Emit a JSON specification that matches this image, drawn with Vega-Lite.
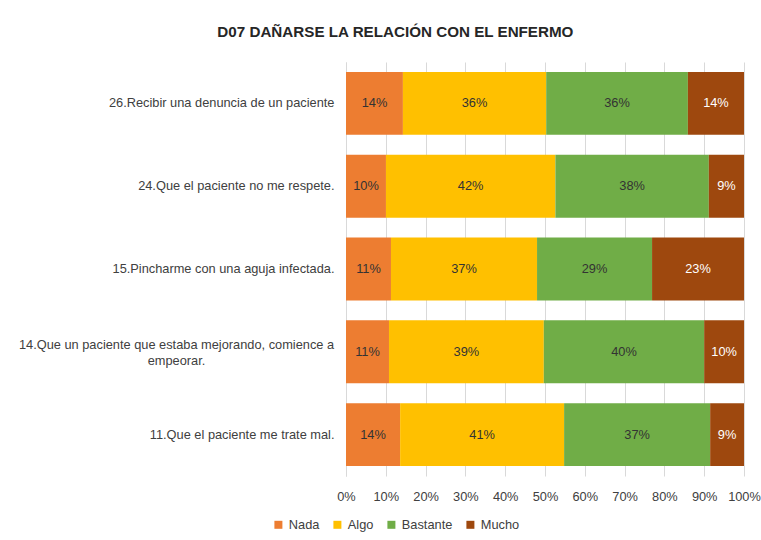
{
  "$schema": "https://vega.github.io/schema/vega-lite/v6.json",
  "width": 398,
  "height": 414,
  "autosize": {"type": "none"},
  "padding": {"left": 346, "top": 62, "right": 17, "bottom": 64},
  "background": "white",
  "title": {
    "text": "D07 DAÑARSE LA RELACIÓN CON EL ENFERMO",
    "frame": "bounds",
    "anchor": "middle",
    "font": "Liberation Sans",
    "fontSize": 15.2,
    "fontWeight": "bold",
    "color": "#262626",
    "offset": 22,
    "dx": 6
  },
  "data": {
    "values": [
      {"q": "26.Recibir una denuncia de un paciente", "cat": "Nada", "o": 1, "v": 0.143},
      {"q": "26.Recibir una denuncia de un paciente", "cat": "Algo", "o": 2, "v": 0.36},
      {"q": "26.Recibir una denuncia de un paciente", "cat": "Bastante", "o": 3, "v": 0.356},
      {"q": "26.Recibir una denuncia de un paciente", "cat": "Mucho", "o": 4, "v": 0.141},
      {"q": "24.Que el paciente no me respete.", "cat": "Nada", "o": 1, "v": 0.10},
      {"q": "24.Que el paciente no me respete.", "cat": "Algo", "o": 2, "v": 0.424},
      {"q": "24.Que el paciente no me respete.", "cat": "Bastante", "o": 3, "v": 0.384},
      {"q": "24.Que el paciente no me respete.", "cat": "Mucho", "o": 4, "v": 0.088},
      {"q": "15.Pincharme con una aguja infectada.", "cat": "Nada", "o": 1, "v": 0.113},
      {"q": "15.Pincharme con una aguja infectada.", "cat": "Algo", "o": 2, "v": 0.367},
      {"q": "15.Pincharme con una aguja infectada.", "cat": "Bastante", "o": 3, "v": 0.289},
      {"q": "15.Pincharme con una aguja infectada.", "cat": "Mucho", "o": 4, "v": 0.231},
      {"q": "14.Que un paciente que estaba mejorando, comience a empeorar.", "cat": "Nada", "o": 1, "v": 0.108},
      {"q": "14.Que un paciente que estaba mejorando, comience a empeorar.", "cat": "Algo", "o": 2, "v": 0.389},
      {"q": "14.Que un paciente que estaba mejorando, comience a empeorar.", "cat": "Bastante", "o": 3, "v": 0.403},
      {"q": "14.Que un paciente que estaba mejorando, comience a empeorar.", "cat": "Mucho", "o": 4, "v": 0.10},
      {"q": "11.Que el paciente me trate mal.", "cat": "Nada", "o": 1, "v": 0.136},
      {"q": "11.Que el paciente me trate mal.", "cat": "Algo", "o": 2, "v": 0.412},
      {"q": "11.Que el paciente me trate mal.", "cat": "Bastante", "o": 3, "v": 0.367},
      {"q": "11.Que el paciente me trate mal.", "cat": "Mucho", "o": 4, "v": 0.085}
    ]
  },
  "encoding": {
    "y": {
      "field": "q",
      "type": "nominal",
      "sort": null,
      "title": null,
      "scale": {"paddingInner": 0.24, "paddingOuter": 0.12},
      "axis": {
        "labelFont": "Liberation Sans",
        "labelFontSize": 12.8,
        "labelColor": "#404040",
        "labelLimit": 400,
        "ticks": false,
        "domainColor": "#D9D9D9",
        "labelExpr": "indexof(datum.label, '14.') == 0 ? ['14.Que un paciente que estaba mejorando, comience a', 'empeorar.'] : datum.label",
        "labelAlign": {"condition": {"test": "indexof(datum.label, '14.') == 0", "value": "center"}, "value": "right"},
        "labelPadding": {"condition": {"test": "indexof(datum.label, '14.') == 0", "value": 170}, "value": 12},
        "labelOffset": {"condition": {"test": "indexof(datum.label, '14.') == 0", "value": -7}, "value": 0},
        "labelLineHeight": 16
      }
    },
    "x": {
      "field": "v",
      "type": "quantitative",
      "stack": "normalize",
      "title": null,
      "scale": {"domain": [0, 1]},
      "axis": {
        "format": ".0%",
        "values": [0, 0.1, 0.2, 0.3, 0.4, 0.5, 0.6, 0.7, 0.8, 0.9, 1],
        "labelOverlap": false,
        "labelFlush": false,
        "labelFont": "Liberation Sans",
        "labelFontSize": 12.8,
        "labelColor": "#404040",
        "ticks": false,
        "domain": false,
        "grid": true,
        "gridColor": "#D9D9D9",
        "labelPadding": 14
      }
    },
    "order": {"field": "o", "type": "quantitative"}
  },
  "layer": [
    {
      "mark": {"type": "bar"},
      "encoding": {
        "color": {
          "field": "cat",
          "type": "nominal",
          "sort": ["Nada", "Algo", "Bastante", "Mucho"],
          "scale": {"domain": ["Nada", "Algo", "Bastante", "Mucho"], "range": ["#ED7D31", "#FFC000", "#70AD47", "#9E480E"]},
          "legend": {
            "title": null,
            "orient": "none",
            "direction": "horizontal",
            "legendX": -74,
            "legendY": 456,
            "symbolType": "square",
            "symbolSize": 64,
            "symbolStrokeWidth": 0,
            "labelFont": "Liberation Sans",
            "labelFontSize": 12.8,
            "labelColor": "#404040",
            "columnPadding": 11,
            "labelOffset": 4
          }
        }
      }
    },
    {
      "mark": {"type": "text", "font": "Liberation Sans", "fontSize": 12.8},
      "encoding": {
        "x": {
          "field": "v",
          "type": "quantitative",
          "stack": "normalize",
          "bandPosition": 0.5,
          "title": null,
          "scale": {"domain": [0, 1]},
          "axis": {
            "format": ".0%",
            "values": [0, 0.1, 0.2, 0.3, 0.4, 0.5, 0.6, 0.7, 0.8, 0.9, 1],
            "labelOverlap": false,
            "labelFlush": false,
            "labelFont": "Liberation Sans",
            "labelFontSize": 12.8,
            "labelColor": "#404040",
            "ticks": false,
            "domain": false,
            "grid": true,
            "gridColor": "#D9D9D9",
            "labelPadding": 14
          }
        },
        "text": {"field": "v", "type": "quantitative", "format": ".0%"},
        "color": {
          "condition": {"test": "datum.cat == 'Mucho'", "value": "white"},
          "value": "#333333"
        }
      }
    }
  ],
  "config": {"view": {"stroke": null}}
}
